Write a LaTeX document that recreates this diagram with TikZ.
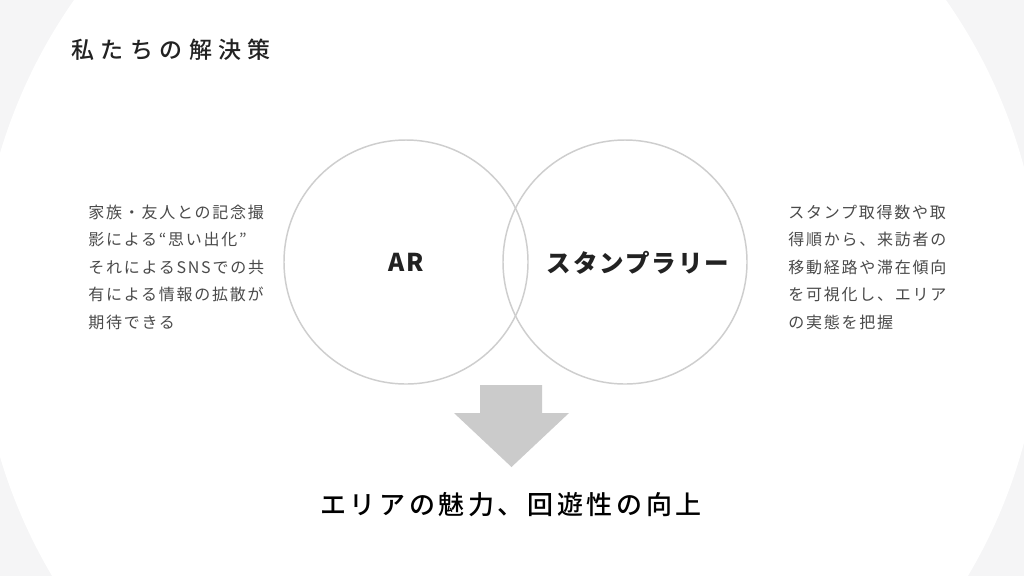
\documentclass[tikz,border=0pt]{standalone}
\usepackage{fontspec}
\setmainfont{Noto Sans CJK JP}
\newfontfamily\titlefont[LetterSpace=28]{Noto Sans CJK JP Medium}
\newfontfamily\bodyfont[LetterSpace=11]{Noto Sans CJK JP}
\newfontfamily\headfont[LetterSpace=8]{Noto Sans CJK JP}
\newfontfamily\resultfont[LetterSpace=14]{Noto Sans CJK JP Medium}
\definecolor{bggray}{RGB}{245,245,246}
\definecolor{linegray}{RGB}{206,206,206}
\definecolor{arrowgray}{RGB}{203,203,203}
\definecolor{inkdark}{RGB}{34,34,34}
\definecolor{inkmid}{RGB}{74,74,74}

\begin{document}
\begin{tikzpicture}[x=0.75pt,y=0.75pt,yscale=-1,xscale=1,
  venn/.style={draw=linegray,line width=1.1pt,circle,minimum size=183pt,inner sep=0pt},
  sidetext/.style={anchor=west,inner sep=0pt,align=left,text=inkmid,font=\bodyfont\fontsize{12}{20.6}\selectfont},
  bigtext/.style={inner sep=0.75pt,text=inkdark,font=\headfont\bfseries\fontsize{18.4}{22}\selectfont}]
\useasboundingbox (0,0) rectangle (1024,576);
\clip (0,0) rectangle (1024,576);

%Shape: Background
\fill[bggray] (0,0) rectangle (1024,576);
\fill[white] (510,305) circle (399pt);

% Text Node
\draw (70,50) node (title) [anchor=west][inner sep=0.75pt] [text=inkdark,font=\titlefont\fontsize{17.25}{20}\selectfont] {私たちの解決策};

%Shape: Circle
\node (ar) at (406,262) [venn] {};
%Shape: Circle
\node (stamp) at (625,262) [venn] {};

% Text Node
\node (arlabel) at (ar) [bigtext] {AR};
% Text Node
\node (stamplabel) at (638,263) [bigtext] {スタンプラリー};

% Text Node
\node (lefttext) at (88,267) [sidetext] {家族・友人との記念撮\\影による“思い出化”\\それによるSNSでの共\\有による情報の拡散が\\期待できる};
% Text Node
\node (righttext) at (788,267) [sidetext] {スタンプ取得数や取\\得順から、来訪者の\\移動経路や滞在傾向\\を可視化し、エリア\\の実態を把握};

%Shape: Down Arrow
\fill[arrowgray] (480,385) -- (542,385) -- (542,413) -- (569,413) -- (511.5,467) -- (454,413) -- (480,413) -- cycle;

% Text Node
\node (result) at (511,505) [inner sep=0.75pt,text=black,font=\resultfont\fontsize{19.5}{24}\selectfont] {エリアの魅力、回遊性の向上};

\end{tikzpicture}
\end{document}
